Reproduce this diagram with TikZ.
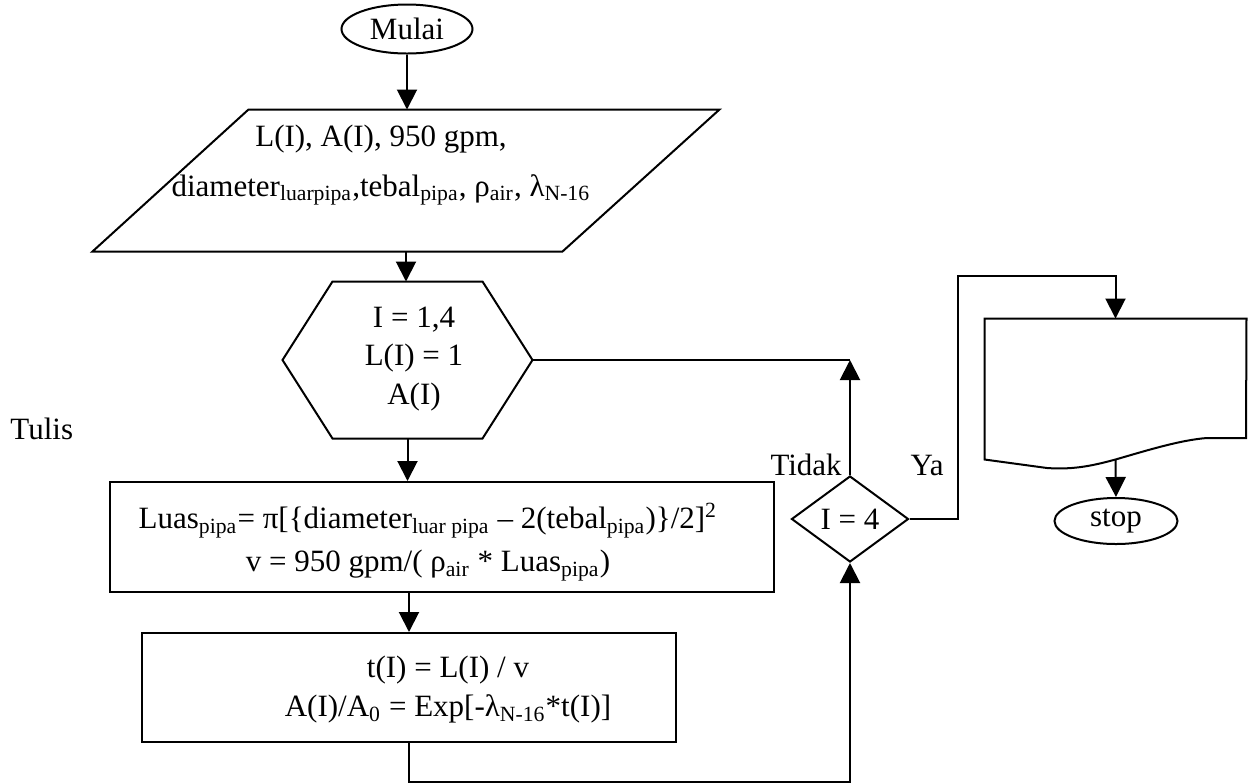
\documentclass[tikz,border=0pt]{standalone}
\usepackage{fontspec}
\setmainfont{Liberation Serif}
\usepackage{tikz}
\usetikzlibrary{shapes.geometric,arrows.meta,positioning,calc}
\newcommand{\satuan}{0.4pt}
\tikzset{
  garis/.style     = {line width=0.8pt},
  panah/.style     = {garis, -{Triangle[length=8pt, width=8pt]}},
  terminal/.style  = {ellipse, draw, garis, inner sep=0pt},
  proses/.style    = {rectangle, draw, garis, inner sep=0pt},
  kotak/.style     = {rectangle, inner sep=0pt},
  keputusan/.style = {diamond, draw, garis, inner sep=0pt},
  teks/.style      = {align=center, inner sep=0pt, font=\fontsize{12.4}{#1}\selectfont},
  teks/.default    = 15,
}

\begin{document}
\begin{tikzpicture}[x=0.4pt, y=-0.4pt, font=\fontsize{12.4}{15}\selectfont]
  \useasboundingbox (0,0) rectangle (1255,782);

  \node[terminal, minimum width=131*\satuan, minimum height=49*\satuan] (mulai) at (407,29) {Mulai};
  \node[kotak, minimum width=626*\satuan, minimum height=141*\satuan] (masuk) at (406,180.5) {};
  \node[teks=20] (masuk-teks) at (381,165) {L(I), A(I), 950 gpm,\\
    diameter\textsubscript{luarpipa},tebal\textsubscript{pipa}, ρ\textsubscript{air}, λ\textsubscript{N-16}};
  \node[kotak, minimum width=249*\satuan, minimum height=156*\satuan] (heks) at (407.5,360) {};
  \node[teks=15.4] (heks-teks) at (414,359) {I = 1,4\\ L(I) = 1\\ A(I)};
  \node[proses, minimum width=664*\satuan, minimum height=110*\satuan] (rumus1) at (442,537) {};
  \node[teks=17.2] (rumus1-teks) at (428,542) {Luas\textsubscript{pipa}= π[\{diameter\textsubscript{luar pipa} – 2(tebal\textsubscript{pipa})\}/2]\textsuperscript{2}\\
    v = 950 gpm/( ρ\textsubscript{air} * Luas\textsubscript{pipa})};
  \node[proses, minimum width=534*\satuan, minimum height=109*\satuan] (rumus2) at (409,687.5) {};
  \node[teks=15.6] (rumus2-teks) at (448,690) {t(I) = L(I) / v\\ A(I)/A\textsubscript{0} = Exp[-λ\textsubscript{N-16}*t(I)]};
  \node[keputusan, minimum width=117*\satuan, minimum height=86*\satuan] (cek) at (850,519) {I = 4};
  \node[kotak, minimum width=261*\satuan, minimum height=140*\satuan] (dok) at (1115.5,389) {};
  \node[terminal, minimum width=123*\satuan, minimum height=46*\satuan] (stop) at (1116,521) {stop};

  \node[teks, anchor=base west] (tulis) at (10,439) {Tulis};
  \node[teks, anchor=base west] (tidak) at (770,475) {Tidak};
  \node[teks, anchor=base west] (ya) at (910,475) {Ya};

  % bentuk masukan, heksagon dan dokumen
  \draw[garis] (masuk.south west) -- ($(masuk.north west)+(156,0)$) -- (masuk.north east)
    -- ($(masuk.south east)+(-157,0)$) -- cycle;
  \draw[garis] (heks.west) -- ($(heks.north west)+(50,0)$) -- ($(heks.north east)+(-50,0)$) -- (heks.east)
    -- ($(heks.south east)+(-50,0)$) -- ($(heks.south west)+(50,0)$) -- cycle;
  \draw[garis] (dok.south west) -- (dok.north west) -- (dok.north east) -- (1246,438) -- (1207,438)
    .. controls (1180,440) and (1145,451) .. (dok.south)
    .. controls (1095,465) and (1075,470) .. (1047,468) -- cycle;

  \draw[panah] (mulai.south) -- (mulai.south |- masuk.north);
  \draw[panah] (masuk.south) -- (masuk.south |- heks.north);
  \draw[panah] (heks.south) -- (heks.south |- rumus1.north);
  \draw[panah] (rumus1.south -| rumus2.north) -- (rumus2.north);
  \draw[panah] (rumus2.south) -- ++(0,39) -| (cek.south);
  \draw[panah] (cek.north) -- (heks.east -| cek.north);
  \draw[garis] (heks.east) -- (heks.east -| cek.north);
  \draw[panah] (cek.east) -- ++(48,0) |- ($(dok.north)+(0,-43)$) -- (dok.north);
  \draw[panah] (dok.south) -- (stop.north);
\end{tikzpicture}
\end{document}
